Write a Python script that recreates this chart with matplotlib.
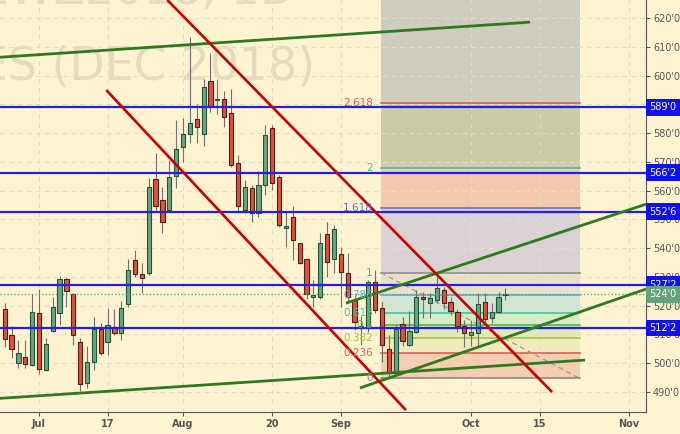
import matplotlib
matplotlib.use("Agg")
import matplotlib.pyplot as plt
import numpy as np

# Velas diarias (trigo dic 2018), de 25-jun a 8-oct
opens = [518.7, 509.8, 500.0, 502.2, 499.3, 517.4, 497.5, 511.2, 517.4, 529.3,
         524.0, 507.5, 493.2, 500.5, 511.8, 507.3, 512.7, 510.4, 520.5, 535.9,
         530.9, 531.5, 563.9, 556.7, 553.3, 565.1, 575.1, 579.7, 584.8, 579.6,
         598.1, 591.6, 591.8, 587.1, 569.5, 553.3, 560.8, 552.1, 562.0, 581.7,
         564.8, 546.9, 550.7, 541.7, 536.1, 523.0, 523.1, 544.9, 536.1, 538.0,
         531.5, 522.0, 512.2, 512.1, 528.3, 519.1, 504.8, 496.7, 513.5, 506.3,
         511.0, 523.1, 520.8, 522.0, 525.4, 521.4, 517.9, 512.9, 509.8, 510.4,
         521.4, 515.6, 517.9, 523.9]
highs = [521.0, 512.9, 508.1, 508.1, 524.0, 525.7, 508.7, 523.1, 530.3, 529.7,
         524.5, 508.7, 506.0, 516.0, 513.9, 519.1, 518.7, 521.6, 536.1, 539.4,
         534.7, 564.3, 573.0, 561.4, 570.6, 584.5, 585.1, 613.3, 590.1, 598.7,
         607.7, 599.0, 594.6, 595.3, 572.4, 563.7, 562.0, 567.0, 582.8, 582.8,
         565.4, 552.7, 554.7, 541.9, 536.5, 528.9, 545.2, 549.2, 548.0, 540.5,
         538.2, 523.7, 516.5, 528.9, 532.4, 521.4, 509.8, 513.3, 516.2, 518.2,
         525.4, 524.9, 524.3, 530.1, 526.6, 523.1, 518.7, 515.0, 515.0, 524.3,
         524.5, 520.8, 524.9, 526.0]
lows = [505.7, 501.7, 498.2, 498.4, 499.0, 496.3, 497.2, 511.0, 513.3, 519.6,
        506.3, 490.4, 491.5, 497.6, 502.8, 502.8, 509.8, 508.1, 519.5, 530.1,
        524.3, 530.7, 552.7, 545.2, 552.7, 560.8, 570.0, 576.7, 576.7, 575.5,
        587.4, 586.6, 582.2, 568.3, 552.3, 552.3, 549.2, 551.0, 558.5, 560.2,
        547.2, 540.5, 535.9, 534.5, 522.2, 519.6, 522.2, 530.1, 531.3, 519.6,
        520.8, 511.5, 506.5, 511.0, 517.4, 500.5, 495.0, 496.5, 506.0, 506.0,
        510.4, 515.8, 515.6, 520.8, 518.7, 516.8, 511.0, 505.7, 506.0, 506.0,
        514.4, 514.0, 517.6, 522.0]
closes = [508.5, 504.9, 503.7, 499.8, 517.9, 497.9, 506.6, 519.4, 529.2, 525.2,
          509.8, 492.7, 500.3, 511.9, 503.4, 513.3, 510.4, 519.1, 532.4, 530.9,
          529.5, 561.4, 554.8, 549.2, 564.8, 574.4, 579.6, 583.6, 582.2, 595.9,
          589.0, 592.0, 585.7, 568.9, 554.8, 561.4, 552.3, 562.0, 579.3, 562.8,
          548.0, 547.7, 542.8, 534.7, 524.1, 523.6, 541.7, 535.3, 546.6, 531.8,
          523.0, 514.4, 513.0, 528.3, 518.5, 506.3, 496.7, 511.8, 507.7, 511.2,
          523.1, 522.2, 522.6, 526.3, 520.8, 518.2, 512.9, 510.4, 511.0, 520.5,
          515.3, 517.9, 523.1, 524.0]
first_idx = -5  # indice del 25-jun (2-jul = 0)

tick_pos = [0, 10, 21, 34, 44, 63, 73, 86]
tick_labels = ['Jul', '17', 'Aug', '20', 'Sep', 'Oct', '15', 'Nov']

# niveles horizontales (azules) y ultimo precio
niveles = [589.0, 566.25, 552.75, 527.25, 512.25]
niveles_txt = ["589'0", "566'2", "552'6", "527'2", "512'2"]
ultimo = 524.0

# lineas de tendencia: (x1, y1, x2, y2) en indice / precio
verdes = [(-5.7, 606.4, 71.6, 618.6),
          (-5.7, 487.8, 79.6, 501.1),
          (44.75, 520.9, 88.5, 555.3),
          (46.8, 491.4, 88.5, 525.8)]
rojas = [(18.7, 626.3, 74.8, 490.0),
         (9.8, 595.0, 53.5, 483.7)]

# fibonacci
fib_bajo, fib_alto = 495.0, 531.5
fib_x = (49.85, 78.9)
fib_niveles = [0, 0.236, 0.382, 0.5, 0.618, 0.786, 1, 1.618, 2, 2.618, 3.618]
fib_lineas = ['#8a8a8a', '#e0604f', '#a8c83c', '#4cb84c', '#3cc8a0', '#60a8d8',
              '#909090', '#7070c8', '#50c090', '#d06050', '#a040b0']
fib_bandas = ['#f5cdb0', '#f0ebbe', '#e0ebbd', '#d6ebc6', '#cfe6d4', '#e9e2c8',
              '#d9d1d4', '#f3c9ae', '#cccca8', '#cfcdc0']

fondo = '#fff3d2'
fig = plt.figure(figsize=(6.8, 4.34), dpi=100, facecolor=fondo)
ax = fig.add_axes([0, 22 / 434, 646 / 680, 412 / 434], facecolor=fondo)
ax.set_xlim(-5.69, 88.5)
ax.set_ylim(483.05, 626.3)

# marca de agua
ax.text(0.457, 0.99, 'ZWZ2018, 1D', transform=ax.transAxes, ha='right', va='baseline',
        fontsize=33, color='#e6dcbd', zorder=0.2)
ax.text(0.488, 0.806, 'WHEAT FUTURES (DEC 2018)', transform=ax.transAxes, ha='right',
        va='baseline', fontsize=33, color='#e6dcbd', zorder=0.2)

# bandas fibonacci
precios_fib = [fib_bajo + n * (fib_alto - fib_bajo) for n in fib_niveles]
for i in range(len(fib_bandas)):
    ax.fill_between(fib_x, precios_fib[i], precios_fib[i + 1], color=fib_bandas[i],
                    lw=0, zorder=0.3)
for n, p, c in zip(fib_niveles, precios_fib, fib_lineas):
    ax.plot(fib_x, [p, p], color=c, lw=1.2, zorder=1)
    if p < 626:
        ax.text(fib_x[0] - 1.2, p, f'{n:g}', color=c, fontsize=7.5, ha='right',
                va='center', zorder=6)
ax.plot([fib_x[0], 78.6], [fib_alto, fib_bajo], color='#999999', lw=0.9,
        ls=(0, (4, 3)), zorder=1.2)

# velas
x = np.arange(first_idx, first_idx + len(opens))
o = np.array(opens); h = np.array(highs); l = np.array(lows); c = np.array(closes)
sube = c >= o
ax.vlines(x, l, h, color='#707070', lw=0.8, zorder=2)
cuerpo = np.maximum(np.abs(c - o), 0.35)
ax.bar(x[sube], cuerpo[sube], bottom=o[sube], width=0.62, color='#6ba583',
       edgecolor='#225437', lw=0.8, zorder=3)
ax.bar(x[~sube], cuerpo[~sube], bottom=c[~sube], width=0.62, color='#d75442',
       edgecolor='#5b1a13', lw=0.8, zorder=3)

# niveles y lineas
ax.axhline(ultimo, color='#6aa583', lw=1, ls=(0, (1, 1.5)), zorder=3.5)
for p in niveles:
    ax.axhline(p, color='#1f1fef', lw=1.6, zorder=4)
for x1, y1, x2, y2 in verdes:
    ax.plot([x1, x2], [y1, y2], color='#2f7a1f', lw=2, zorder=5, solid_capstyle='butt')
for x1, y1, x2, y2 in rojas:
    ax.plot([x1, x2], [y1, y2], color='#cc0000', lw=1.9, zorder=5, solid_capstyle='butt')

# ejes
ax.grid(True, color='#e4dcc6', ls=(0, (4, 4)), lw=0.8)
ax.set_axisbelow(True)
for s in ['left', 'top']:
    ax.spines[s].set_visible(False)
for s in ['right', 'bottom']:
    ax.spines[s].set_color('#555555')
ax.yaxis.tick_right()
ax.set_yticks(np.arange(490, 621, 10))
ax.set_yticklabels([f"{int(v)}'0" for v in np.arange(490, 621, 10)])
ax.set_xticks(tick_pos)
ax.set_xticklabels(tick_labels, fontweight='bold')
ax.tick_params(axis='both', colors='#555555', labelsize=7, length=3, pad=2)

for p, t in zip(niveles, niveles_txt):
    ax.text(1.005, p, t, transform=ax.get_yaxis_transform(), color='white',
            fontsize=7, ha='left', va='center', zorder=10, clip_on=False,
            bbox=dict(boxstyle='square,pad=0.35', fc='#1010f0', ec='none'))
ax.text(1.005, ultimo, "524'0", transform=ax.get_yaxis_transform(), color='white',
        fontsize=7, ha='left', va='center', zorder=10, clip_on=False,
        bbox=dict(boxstyle='square,pad=0.35', fc='#66a37c', ec='none'))

fig.savefig('out.png', dpi=100, facecolor=fondo)
